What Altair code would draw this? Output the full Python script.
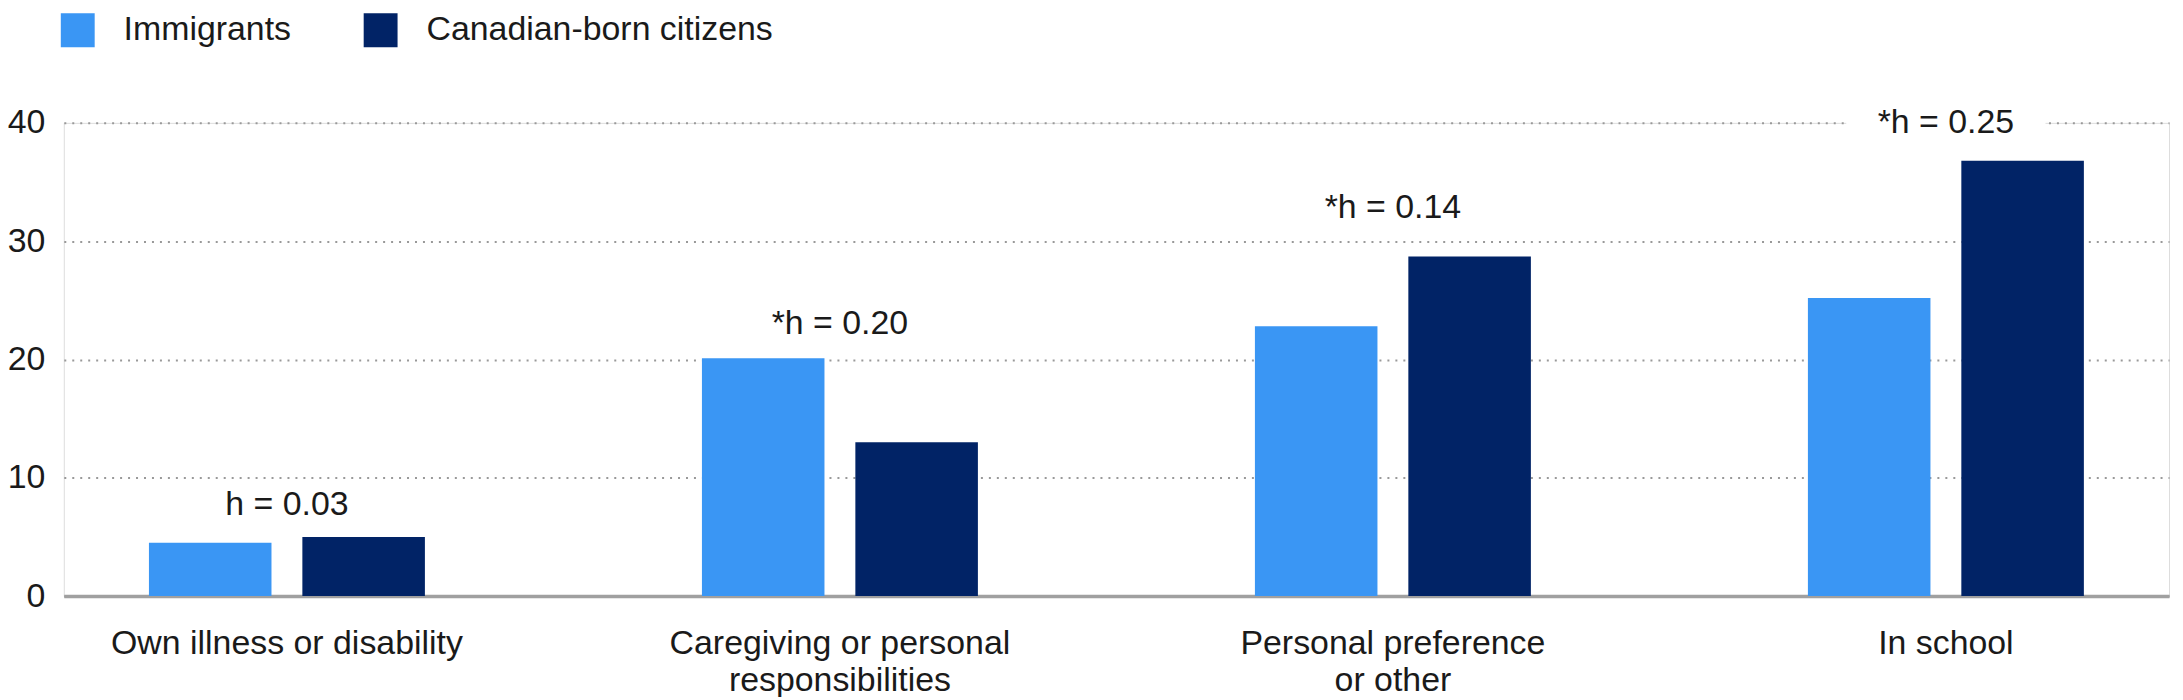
import altair as alt
import pandas as pd

categories = [
    "Own illness or disability",
    "Caregiving or personal responsibilities",
    "Personal preference or other",
    "In school",
]
label_lines = [
    ["Own illness or disability"],
    ["Caregiving or personal", "responsibilities"],
    ["Personal preference", "or other"],
    ["In school"],
]
groups = ["Immigrants", "Canadian-born citizens"]
immigrants = [4.5, 20.1, 22.8, 25.2]
canadian_born = [5.0, 13.0, 28.7, 36.8]
h_labels = ["h = 0.03", "*h = 0.20", "*h = 0.14", "*h = 0.25"]
h_label_y = [7.7, 23.0, 32.8, 40.0]
y_ticks = [0, 10, 20, 30, 40]
colors = ["#3A96F4", "#012366"]

rows = []
for c, a, b in zip(categories, immigrants, canadian_born):
    rows.append({"category": c, "group": groups[0], "value": a})
    rows.append({"category": c, "group": groups[1], "value": b})
bars_df = pd.DataFrame(rows)
labels_df = pd.DataFrame({"category": categories, "label": h_labels, "ly": h_label_y})

expr = "datum.value"
for c, lines in reversed(list(zip(categories, label_lines))):
    expr = f"datum.value === '{c}' ? {lines!r} : " + expr

FONT = "Liberation Sans"
TXT = "#1a1a1a"

x_main = alt.X(
    "category:N",
    sort=categories,
    scale=alt.Scale(paddingInner=0.193, paddingOuter=0),
    axis=alt.Axis(
        title=None, labelAngle=0, labelExpr=expr, labelPadding=31,
        labelLineHeight=37, labelFontSize=34, labelLimit=0, ticks=False,
        tickSize=0, domainColor="#a0a0a0", domainWidth=3.5, labelColor=TXT,
        grid=False, labelFont=FONT,
    ),
)
y_main = alt.Y(
    "value:Q",
    scale=alt.Scale(domain=[0, 40], nice=False),
    axis=alt.Axis(
        title=None, values=y_ticks, domain=False, ticks=False, tickSize=0,
        labelPadding=19, labelFontSize=34, labelColor=TXT, labelFont=FONT,
        gridDash=[2, 6], gridColor="#999999", gridWidth=2,
    ),
)

bars = alt.Chart(bars_df).mark_bar().encode(
    x=x_main,
    y=y_main,
    xOffset=alt.XOffset(
        "group:N", sort=groups,
        scale=alt.Scale(paddingInner=0.2013, paddingOuter=0.555),
    ),
    color=alt.Color(
        "group:N",
        sort=groups,
        scale=alt.Scale(domain=groups, range=colors),
        legend=alt.Legend(
            title=None, orient="none", legendX=-3, legendY=-110,
            direction="horizontal", symbolType="square", symbolSize=1156,
            labelFontSize=34, labelOffset=29, columnPadding=72, padding=0,
            symbolStrokeWidth=0, labelColor=TXT, labelFont=FONT,
            labelLimit=1000,
        ),
    ),
)

backs = alt.Chart(labels_df).transform_calculate(
    lo="datum.ly - 1.2", hi="datum.ly + 1.2"
).mark_bar(color="white", size=200).encode(
    x=alt.X("category:N", sort=categories),
    y=alt.Y("lo:Q"),
    y2="hi:Q",
)

texts = alt.Chart(labels_df).mark_text(
    fontSize=34, baseline="middle", align="center", color=TXT, font=FONT
).encode(
    x=alt.X("category:N", sort=categories),
    y=alt.Y("ly:Q"),
    text="label:N",
)

chart = alt.layer(bars, backs, texts).properties(
    width=2113,
    height=475,
    autosize=alt.AutoSizeParams(type="none"),
    padding={"left": 56, "top": 114, "right": 6, "bottom": 100},
).configure_view(stroke=None).configure(font=FONT)

chart.save("out.html", embed_options={"renderer": "svg", "actions": False})
